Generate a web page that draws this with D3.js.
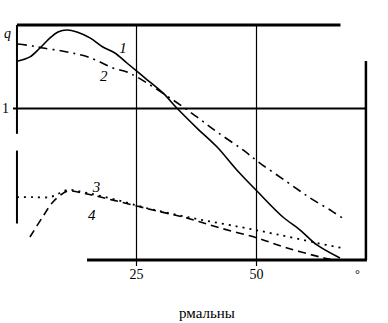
<!DOCTYPE html>
<html>
<head>
<meta charset="utf-8">
<script src="https://cdn.jsdelivr.net/npm/d3@7"></script>
<style>
body { margin: 0; background: #fff; }
text { font-family: "Liberation Serif", "DejaVu Serif", serif; fill: #000; }
</style>
</head>
<body>
<script>
var width = 388;
var height = 323;

// curve data: [angle, q]
var curve1 = [[0.4,1.309],[2.9,1.336],[5.0,1.395],[7.1,1.461],[8.75,1.5],[10.6,1.513],[12.7,1.5],[15.4,1.461],[18.1,1.401],[20.6,1.362],[23.1,1.296],[26.9,1.197],[30.6,1.099],[33.5,1.0],[37.7,0.868],[41.9,0.743],[46.0,0.592],[50.4,0.447],[55.6,0.283],[59.2,0.197],[62.7,0.099],[67.5,0.013]];
var curve2 = [[0.4,1.421],[3.5,1.408],[5.6,1.395],[9.6,1.375],[12.7,1.355],[15.0,1.336],[17.5,1.303],[20.2,1.263],[23.1,1.237],[25.2,1.204],[32.7,1.053],[37.7,0.941],[41.9,0.842],[47.3,0.724],[50.8,0.638],[56.5,0.513],[61.3,0.408],[65.8,0.322],[68.3,0.270]];
var curve3 = [[0.2,0.414],[3.5,0.414],[7.1,0.414],[9.2,0.441],[10.8,0.461],[14.8,0.441],[21.0,0.395],[27.9,0.336],[37.7,0.270],[46.7,0.217],[54.0,0.171],[62.7,0.112],[67.9,0.079]];
var curve4 = [[2.9,0.151],[5.4,0.276],[7.7,0.382],[9.6,0.434],[10.8,0.454],[14.8,0.434],[21.0,0.388],[28.5,0.329],[35.6,0.276],[42.5,0.211],[50.2,0.145],[56.5,0.079],[63.3,0.020],[66.0,0.0]];

var xTicks = [25, 50];
var yTicks = [1];
var curveLabels = ["1", "2", "3", "4"];

var x = d3.scaleLinear().domain([0, 50]).range([16, 256]);
var y = d3.scaleLinear().domain([0, 1]).range([260, 108]);

var svg = d3.select("body")
  .append("svg")
  .attr("width", width)
  .attr("height", height);

// vertical grid lines + ticks
svg.append("g")
  .attr("transform", "translate(0,260)")
  .call(d3.axisBottom(x).tickValues(xTicks).tickSize(6).tickPadding(3).tickFormat(d3.format("d")))
  .call(g => g.select(".domain").remove())
  .call(g => g.selectAll("line").attr("y1", y(1.546) - 260).attr("stroke-width", 1.2))
  .call(g => g.selectAll("text").attr("font-size", "14px"));

// horizontal line at q = 1
svg.append("g")
  .attr("transform", "translate(" + x(0.2) + ",0)")
  .call(d3.axisLeft(y).tickValues(yTicks).tickSize(4).tickPadding(4).tickFormat(d3.format("d")))
  .call(g => g.select(".domain").remove())
  .call(g => g.selectAll("line").attr("x1", -4).attr("x2", x(72.9) - x(0.2)).attr("stroke-width", 2))
  .call(g => g.selectAll("text").attr("font-size", "14px"));

// frame pieces
var frame = svg.append("g").attr("stroke", "#000").attr("fill", "none");
frame.append("line").attr("x1", x(0.2)).attr("x2", x(67.6)).attr("y1", y(1.546)).attr("y2", y(1.546)).attr("stroke-width", 3);
frame.append("line").attr("x1", x(0.2)).attr("x2", x(0.2)).attr("y1", y(1.546)).attr("y2", y(0.83)).attr("stroke-width", 2);
frame.append("line").attr("x1", x(0.2)).attr("x2", x(0.2)).attr("y1", y(0.72)).attr("y2", y(0.24)).attr("stroke-width", 2);
frame.append("line").attr("x1", x(72.9)).attr("x2", x(72.9)).attr("y1", y(1.309)).attr("y2", y(0)).attr("stroke-width", 2.5);
frame.append("line").attr("x1", x(14.8)).attr("x2", x(73.1)).attr("y1", y(0)).attr("y2", y(0)).attr("stroke-width", 3);

var line = d3.line()
  .x(d => x(d[0]))
  .y(d => y(d[1]))
  .curve(d3.curveCatmullRom);

var series = [
  { data: curve1, dash: null, w: 1.6 },
  { data: curve2, dash: "9,5,2,5", w: 1.6 },
  { data: curve3, dash: "2,5", w: 1.8 },
  { data: curve4, dash: "8,5", w: 1.6 }
];

svg.selectAll("path.curve")
  .data(series)
  .enter()
  .append("path")
  .attr("class", "curve")
  .attr("d", d => line(d.data))
  .attr("fill", "none")
  .attr("stroke", "#000")
  .attr("stroke-width", d => d.w)
  .attr("stroke-dasharray", d => d.dash);

// curve labels
var labelPos = [[21.5, 1.36], [17.5, 1.18], [16.0, 0.45], [15.0, 0.26]];
svg.selectAll("text.lab")
  .data(curveLabels)
  .enter()
  .append("text")
  .attr("class", "lab")
  .attr("x", (d, i) => x(labelPos[i][0]))
  .attr("y", (d, i) => y(labelPos[i][1]))
  .attr("font-size", "15px")
  .attr("font-style", "italic")
  .text(d => d);

svg.append("text")
  .attr("x", 4)
  .attr("y", 38)
  .attr("font-size", "14px")
  .attr("font-style", "italic")
  .text("q");

svg.append("text")
  .attr("x", 355)
  .attr("y", 278)
  .attr("font-size", "12px")
  .text("°");

svg.append("text")
  .attr("x", 207)
  .attr("y", 318)
  .attr("text-anchor", "middle")
  .attr("font-size", "15px")
  .text("рмальны");
</script>
</body>
</html>
